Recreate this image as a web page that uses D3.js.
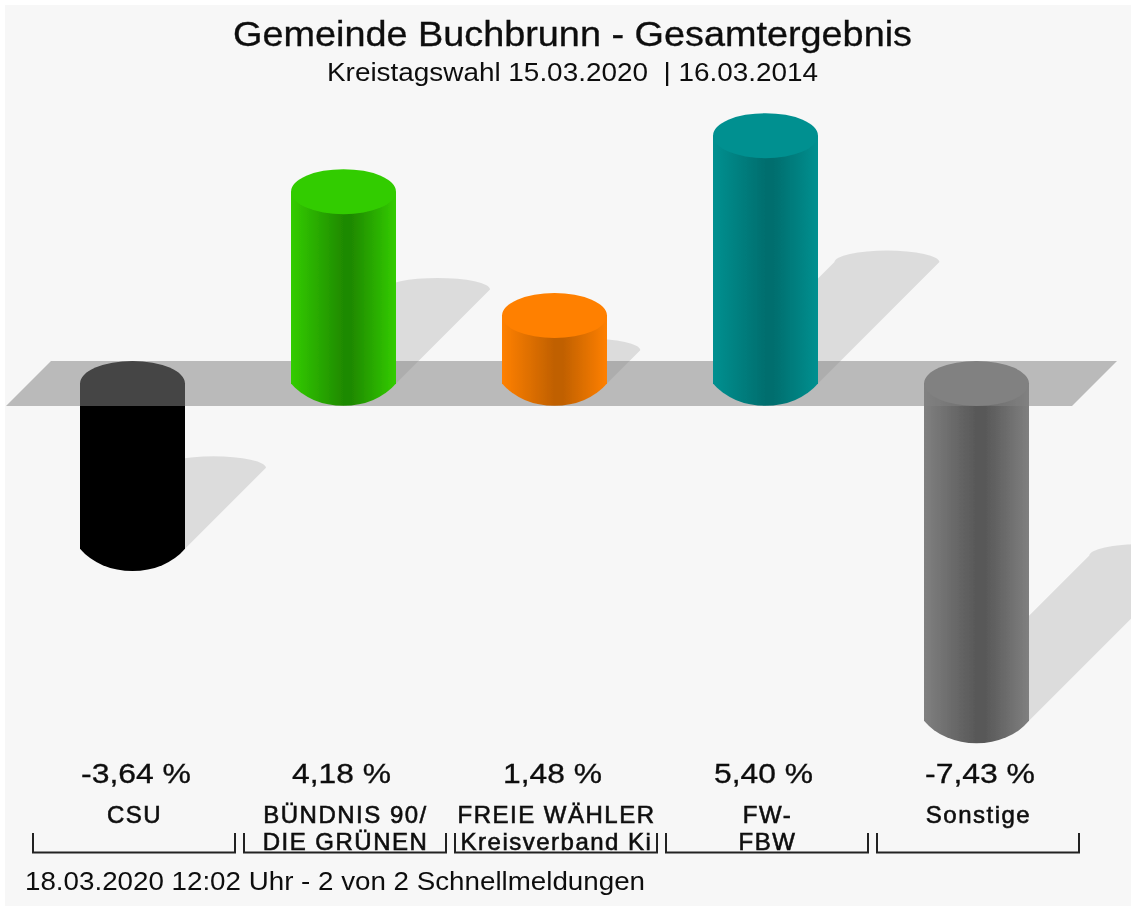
<!DOCTYPE html>
<html><head><meta charset="utf-8">
<script src="https://cdn.jsdelivr.net/npm/d3@7"></script>
<style>html,body{margin:0;padding:0;background:#fff}svg{display:block}text{font-family:"Liberation Sans",Arial,sans-serif;fill:#111}</style>
</head><body><svg id="c" width="1131" height="906"></svg>
<script>
const parties = ["CSU","BÜNDNIS 90/ DIE GRÜNEN","FREIE WÄHLER Kreisverband Ki","FW-FBW","Sonstige"];
const nameLines = [["CSU"],["BÜNDNIS 90/","DIE GRÜNEN"],["FREIE WÄHLER","Kreisverband Ki"],["FW-","FBW"],["Sonstige"]];
const values = [-3.64,4.18,1.48,5.40,-7.43];
const valueLabels = ["-3,64 %","4,18 %","1,48 %","5,40 %","-7,43 %"];
const edgeColors = ["#000000","#33cc00","#ff8000","#009090","#808080"];
const midColors = ["#000000","#1f8a00","#c06000","#006e6e","#585858"];
const titleText = "Gemeinde Buchbrunn - Gesamtergebnis";
const subtitleText = "Kreistagswahl 15.03.2020  | 16.03.2014";
const footerText = "18.03.2020 12:02 Uhr - 2 von 2 Schnellmeldungen";

const svg = d3.select("#c");
svg.append("rect").attr("x",5).attr("y",5).attr("width",1126).attr("height",901).attr("fill","#f7f7f7");

const x = d3.scaleBand().domain(parties).range([27,1082]).paddingInner(0).paddingOuter(0);
const y = d3.scaleLinear().domain([-1,0,1]).range([428.9,383.5,337.6]);
const rx = 52.5, ry = 22.5, base = y(0), shadowRy = 11.5;
const cx = d => x(d)+x.bandwidth()/2;
const data = parties.map((p,i)=>({p,i,v:values[i],lines:nameLines[i],label:valueLabels[i]}));

const defs = svg.append("defs");
const soft = defs.append("filter").attr("id","soft").attr("x","-5%").attr("y","-5%").attr("width","110%").attr("height","110%");
soft.append("feGaussianBlur").attr("stdDeviation",0.6);
data.forEach(d=>{
  const g = defs.append("linearGradient").attr("id","g"+d.i).attr("x1",0).attr("x2",1).attr("y1",0).attr("y2",0);
  [[0,edgeColors[d.i]],[.5,midColors[d.i]],[.58,midColors[d.i]],[1,edgeColors[d.i]]].forEach(s=>g.append("stop").attr("offset",s[0]).attr("stop-color",s[1]));
});

const root = svg.append("g").attr("filter","url(#soft)");

// shadows run up and to the right from the lower end of each cylinder
root.append("g").selectAll("path").data(data).join("path")
  .attr("fill","#000").attr("fill-opacity",.11)
  .attr("d",d=>{
    const yc=Math.max(y(d.v),base), s=Math.abs(y(d.v)-base)*0.49, c=cx(d.p);
    return `M${c+rx},${yc} L${c+rx+s},${yc-s} A${rx},${shadowRy} 0 0 0 ${c-rx+s},${yc-s} L${c-rx},${yc} Z`;
  });

function cylinder(sel){
  sel.append("path").attr("fill",d=>`url(#g${d.i})`).attr("d",d=>{
    const c=cx(d.p), top=Math.min(y(d.v),base), bot=Math.max(y(d.v),base);
    return `M${c-rx},${top} L${c-rx},${bot} A${rx*1.2},50 0 0 0 ${c+rx},${bot} L${c+rx},${top} Z`;
  });
  sel.append("ellipse").attr("cx",d=>cx(d.p)).attr("cy",d=>Math.min(y(d.v),base)).attr("rx",rx).attr("ry",ry)
    .attr("fill",d=>edgeColors[d.i]);
}
// negative bars sit behind the translucent plane
root.append("g").selectAll("g").data(data.filter(d=>d.v<0)).join("g").call(cylinder);
const plane = d3.path();
plane.moveTo(6,base+ry); plane.lineTo(1072,base+ry); plane.lineTo(1117,base-ry); plane.lineTo(51,base-ry); plane.closePath();
root.append("path").attr("d",plane.toString()).attr("fill","rgb(129,129,129)").attr("fill-opacity",.526);
root.append("g").selectAll("g").data(data.filter(d=>d.v>=0)).join("g").call(cylinder);

// text
const ink = (s,w) => s.attr("stroke","#111").attr("stroke-width",w);
root.append("text").attr("x",572.5).attr("y",46).attr("text-anchor","middle").attr("font-size",35).attr("textLength",679).attr("lengthAdjust","spacingAndGlyphs").call(ink,.35).text(titleText);
root.append("text").attr("x",572.5).attr("y",81).attr("text-anchor","middle").attr("font-size",25.5).attr("textLength",491).attr("lengthAdjust","spacingAndGlyphs").style("white-space","pre").text(subtitleText);
root.append("g").selectAll("text").data(data).join("text").attr("x",d=>x(d.p)+54).attr("y",783).attr("font-size",28.5)
  .attr("textLength",d=>d.label.length*11+33).attr("lengthAdjust","spacingAndGlyphs").call(ink,.35).text(d=>d.label);
const names = root.append("g").selectAll("g").data(data).join("g");
names.each(function(d){
  d3.select(this).selectAll("text").data(d.lines).join("text")
    .attr("x",cx(d.p)+2).attr("y",(l,j)=>823+j*26.5).attr("text-anchor","middle").attr("font-size",24).attr("letter-spacing",1.5)
    .call(ink,.6).text(l=>l);
});
root.append("g").selectAll("path").data(data).join("path").attr("fill","none").attr("stroke","#222").attr("stroke-width",2)
  .attr("d",d=>{const l=x(d.p)+6,r=x(d.p)+x.bandwidth()-3;return `M${l},833 V852.5 H${r} V833`;});
root.append("text").attr("x",25).attr("y",890).attr("font-size",26.5).attr("textLength",620).attr("lengthAdjust","spacingAndGlyphs").attr("fill","#222").text(footerText);
</script></body></html>
